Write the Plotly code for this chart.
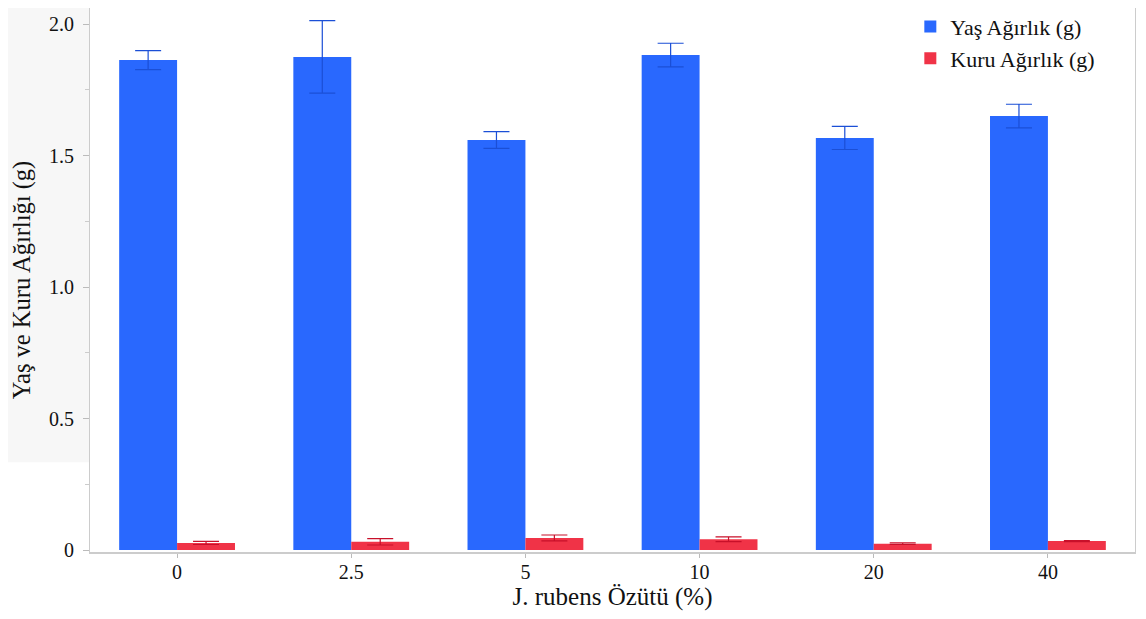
import plotly.graph_objects as go

categories = ["0", "2.5", "5", "10", "20", "40"]
yas = [1.863, 1.875, 1.559, 1.882, 1.567, 1.650]
yas_err = [0.036, 0.138, 0.032, 0.045, 0.044, 0.045]
kuru = [0.027, 0.031, 0.046, 0.041, 0.024, 0.034]
kuru_err = [0.006, 0.012, 0.011, 0.009, 0.003, 0.002]
y_tickvals = [0, 0.5, 1.0, 1.5, 2.0]
y_ticktext = ["0", "0.5", "1.0", "1.5", "2.0"]

FONT = "Liberation Serif"

fig = go.Figure()
fig.add_trace(go.Bar(
    x=categories, y=yas, name="Yaş Ağırlık (g)",
    marker=dict(color="#2968FE", line=dict(width=0)),
    error_y=dict(type="data", array=yas_err, color="#1b4fd6", thickness=1.2, width=13),
))
fig.add_trace(go.Bar(
    x=categories, y=kuru, name="Kuru Ağırlık (g)",
    marker=dict(color="#F03347", line=dict(width=0)),
    error_y=dict(type="data", array=kuru_err, color="#c8102a", thickness=1.2, width=13),
))

fig.add_shape(type="rect", xref="paper", yref="paper",
              x0=-0.0785, x1=0, y0=0.165, y1=1.02,
              fillcolor="#f7f7f7", line=dict(width=0), layer="below")

fig.update_layout(
    width=1130, height=603,
    margin=dict(l=82, r=3, t=0, b=59, autoexpand=False),
    paper_bgcolor="white", plot_bgcolor="white",
    barmode="group", bargap=0.335, bargroupgap=0,
    font=dict(family=FONT, color="#111111"),
    showlegend=True,
    legend=dict(x=0.785, y=1.004, xanchor="left", yanchor="top",
                font=dict(family=FONT, size=22, color="#111111"),
                bgcolor="rgba(0,0,0,0)", itemwidth=30),
    xaxis=dict(
        type="category", automargin=False,
        showline=True, linecolor="#cccccc", linewidth=2, mirror=True,
        ticks="outside", ticklen=4, tickcolor="#bbbbbb", ticklabelstandoff=-3,
        tickfont=dict(family=FONT, size=20, color="#111111"),
        title=dict(text="J. rubens Özütü (%)", font=dict(family=FONT, size=25, color="#111111"), standoff=9),
        showgrid=False,
    ),
    yaxis=dict(
        range=[-0.0076, 2.061], automargin=False,
        tickvals=y_tickvals, ticktext=y_ticktext,
        showline=True, linecolor="#cccccc", linewidth=1, mirror=True,
        ticks="outside", ticklen=6, tickcolor="#bbbbbb", ticklabelstandoff=5,
        minor=dict(ticks="outside", ticklen=4, tickcolor="#cccccc", dtick=0.25, tick0=0),
        tickfont=dict(family=FONT, size=20, color="#111111"),
        title=dict(text="Yaş ve Kuru Ağırlığı (g)", font=dict(family=FONT, size=24.5, color="#111111"), standoff=15),
        showgrid=False, zeroline=False,
    ),
)

fig.write_html("out.html")
